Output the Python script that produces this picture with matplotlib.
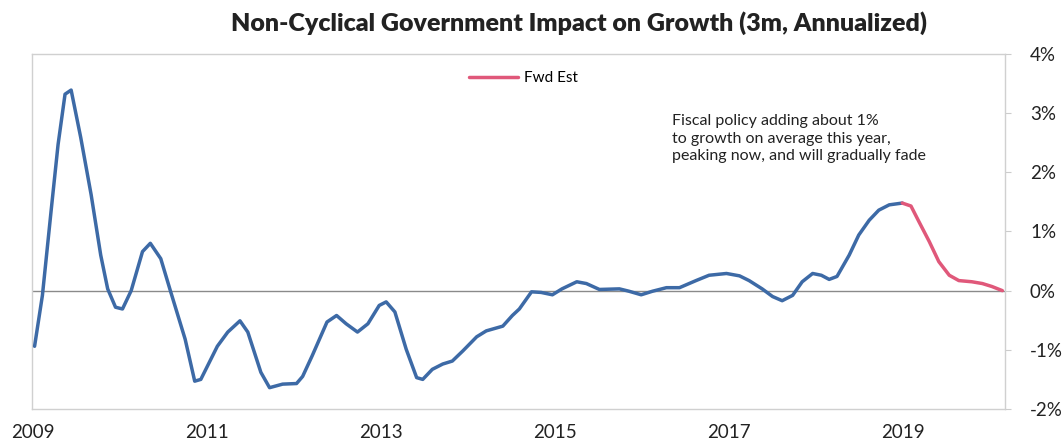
import matplotlib
matplotlib.use("Agg")
import matplotlib.pyplot as plt
from matplotlib.ticker import FuncFormatter

plt.rcParams['font.family'] = ['Lato', 'DejaVu Sans']

# Historical series (fractional year, % annualized)
hist_x = [2009.02, 2009.11, 2009.21, 2009.29, 2009.37, 2009.44, 2009.55, 2009.67, 2009.78, 2009.86,
          2009.95, 2010.03, 2010.13, 2010.26, 2010.35, 2010.47, 2010.58, 2010.75, 2010.86, 2010.93,
          2011.12, 2011.24, 2011.38, 2011.47, 2011.62, 2011.72, 2011.87, 2012.03, 2012.10, 2012.21,
          2012.38, 2012.49, 2012.60, 2012.73, 2012.85, 2012.98, 2013.06, 2013.16, 2013.29, 2013.41,
          2013.48, 2013.59, 2013.71, 2013.82, 2013.94, 2014.10, 2014.21, 2014.40, 2014.51, 2014.59,
          2014.73, 2014.84, 2014.97, 2015.08, 2015.25, 2015.36, 2015.51, 2015.74, 2015.85, 2015.99,
          2016.12, 2016.28, 2016.43, 2016.62, 2016.77, 2016.97, 2017.12, 2017.23, 2017.38, 2017.50,
          2017.61, 2017.73, 2017.84, 2017.96, 2018.06, 2018.15, 2018.24, 2018.38, 2018.49, 2018.61,
          2018.72, 2018.84, 2018.99]
hist_y = [-0.94, -0.08, 1.35, 2.47, 3.32, 3.39, 2.59, 1.62, 0.60, 0.03,
          -0.28, -0.31, 0.00, 0.66, 0.80, 0.54, 0.00, -0.82, -1.53, -1.50,
          -0.94, -0.70, -0.51, -0.70, -1.38, -1.64, -1.58, -1.57, -1.45, -1.10,
          -0.53, -0.42, -0.56, -0.70, -0.56, -0.25, -0.19, -0.36, -0.99, -1.47,
          -1.50, -1.33, -1.24, -1.19, -1.02, -0.78, -0.68, -0.60, -0.42, -0.31,
          -0.02, -0.03, -0.07, 0.03, 0.15, 0.12, 0.02, 0.03, -0.01, -0.07,
          -0.01, 0.05, 0.05, 0.17, 0.26, 0.29, 0.25, 0.17, 0.03, -0.10,
          -0.17, -0.08, 0.15, 0.29, 0.26, 0.19, 0.24, 0.60, 0.94, 1.19,
          1.36, 1.45, 1.48]

# Forward estimate series
fwd_x = [2018.99, 2019.09, 2019.18, 2019.30, 2019.41, 2019.53, 2019.64, 2019.79, 2019.91, 2020.02, 2020.14]
fwd_y = [1.48, 1.43, 1.17, 0.83, 0.49, 0.26, 0.17, 0.15, 0.12, 0.07, 0.00]

year_ticks = [2009, 2011, 2013, 2015, 2017, 2019]
y_ticks = [-2, -1, 0, 1, 2, 3, 4]

title = "Non-Cyclical Government Impact on Growth (3m, Annualized)"
note = "Fiscal policy adding about 1%\nto growth on average this year,\npeaking now, and will gradually fade"

fig = plt.figure(figsize=(10.62, 4.46), dpi=100)
ax = fig.add_axes([0.0301, 0.083, 0.9162, 0.796])

ax.axhline(0, color='#8a8a8a', lw=1.0, zorder=1)
ax.plot(hist_x, hist_y, color='#3d6aa6', lw=2.5, solid_capstyle='round',
        solid_joinstyle='round', zorder=3)
ax.plot(fwd_x, fwd_y, color='#e0587a', lw=2.5, solid_capstyle='round',
        solid_joinstyle='round', zorder=3, label='Fwd Est')

ax.set_xlim(2008.99, 2020.17)
ax.set_ylim(-2, 4)
ax.set_xticks(year_ticks)
ax.set_xticklabels([str(y) for y in year_ticks])
ax.set_yticks(y_ticks)
ax.yaxis.set_major_formatter(FuncFormatter(lambda v, p: f"{int(v)}%"))
ax.yaxis.tick_right()
ax.tick_params(axis='x', length=0, pad=11, labelsize=13.5, colors='#222222')
ax.tick_params(axis='y', length=4, width=0.8, color='#cccccc', pad=14, labelsize=13.5,
               labelcolor='#222222', direction='out')

for s in ax.spines.values():
    s.set_color('#d0d0d0')
    s.set_linewidth(1.0)

leg = ax.legend(loc='upper left', bbox_to_anchor=(0.435, 0.99), frameon=False,
                fontsize=11, handlelength=3.2, handletextpad=0.4)

ax.text(0.658, 0.83, note, transform=ax.transAxes, fontsize=11.5, va='top', ha='left',
        linespacing=1.3, color='#222222')

fig.text(0.545, 0.948, title, ha='center', va='center', fontsize=18, fontweight='heavy',
         color='#222222')

fig.savefig("out.png", dpi=100)
